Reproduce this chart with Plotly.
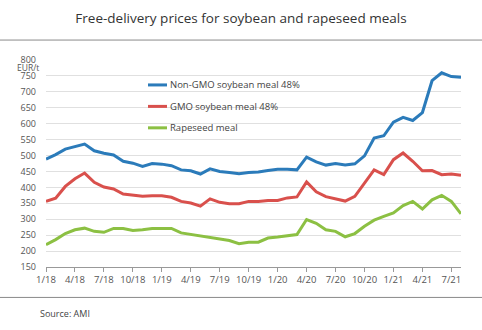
import plotly.graph_objects as go

# Monthly observations, January 2018 through August 2021
months = [f"{m}/{y}" for y in (18, 19, 20, 21) for m in range(1, 13)][:44]

non_gmo_soy = [489, 503, 520, 528, 536, 515, 507, 502, 482, 476, 466, 475,
               473, 468, 455, 452, 442, 458, 450, 447, 443, 447, 448, 453,
               457, 457, 455, 495, 480, 470, 475, 470, 474, 499, 555, 562,
               605, 620, 610, 635, 735, 760, 748, 746]
gmo_soy = [356, 366, 403, 427, 445, 416, 401, 395, 379, 376, 372, 374,
           374, 369, 356, 351, 341, 364, 353, 349, 349, 356, 356, 359,
           359, 367, 370, 417, 386, 371, 363, 357, 372, 414, 455, 440,
           487, 508, 482, 452, 453, 440, 442, 438]
rapeseed = [220, 236, 255, 267, 272, 262, 259, 271, 271, 265, 267, 271,
            271, 271, 257, 252, 247, 241, 236, 233, 223, 228, 228, 241,
            244, 249, 252, 299, 287, 267, 262, 245, 255, 278, 297, 309,
            320, 343, 356, 332, 361, 375, 356, 317]

series_names = ["Non-GMO soybean meal 48%", "GMO soybean meal 48%", "Rapeseed meal"]
series_colors = ["#2b7bba", "#d9504c", "#8cc043"]

tick_idx = list(range(0, 44, 3))
tick_text = [months[i] for i in tick_idx]

W, H = 482, 330
ML, MR, MT, MB = 46, 21, 60, 62.5
pw, ph = W - ML - MR, H - MT - MB

FONT = "Open Sans"


def px_x(xp):
    return (xp - ML) / pw


def px_y(yp):
    return 1 - (yp - MT) / ph


fig = go.Figure()
x = list(range(len(months)))
for name, vals, col in zip(series_names, [non_gmo_soy, gmo_soy, rapeseed], series_colors):
    fig.add_trace(go.Scatter(x=x, y=vals, name=name, mode="lines",
                             line=dict(color=col, width=3),
                             customdata=months, showlegend=False,
                             hovertemplate="%{customdata}: %{y} EUR/t<extra>%{fullData.name}</extra>"))

fig.update_layout(
    width=W, height=H,
    margin=dict(l=ML, r=MR, t=MT, b=MB, pad=0),
    paper_bgcolor="white", plot_bgcolor="white",
    font=dict(family=FONT, size=9, color="#444"),
    title=dict(text="Free-delivery prices for soybean and rapeseed meals",
               x=0.5, xanchor="center", y=1 - 18 / H, yanchor="middle",
               font=dict(family=FONT, size=13.5, color="#333")),
    xaxis=dict(range=[0, 43], tickmode="array", tickvals=tick_idx, ticktext=tick_text,
               showgrid=False, zeroline=False, showline=True, linecolor="#999",
               linewidth=1, ticks="outside", ticklen=4, tickcolor="#999",
               tickfont=dict(size=9.5, color="#555")),
    yaxis=dict(range=[150, 800], dtick=50, showgrid=True, gridcolor="#e0e0e0",
               gridwidth=1, zeroline=False, showline=False, ticks="",
               ticklabelstandoff=9, tickfont=dict(size=9, color="#555")),
)

# Series key drawn inside the plot area
for i, (name, col) in enumerate(zip(series_names, series_colors)):
    yp = px_y(85 + 21.5 * i)
    fig.add_shape(type="line", xref="paper", yref="paper",
                  x0=px_x(148), x1=px_x(167), y0=yp, y1=yp,
                  line=dict(color=col, width=3))
    fig.add_annotation(text=name, xref="paper", yref="paper", x=px_x(168), y=yp,
                       xanchor="left", yanchor="middle", showarrow=False,
                       font=dict(size=9.5, color="#444"))

# Unit label above the value axis
fig.add_annotation(text="EUR/t", xref="paper", yref="y", x=-5 / pw, y=776,
                   xanchor="right", yanchor="middle", showarrow=False,
                   font=dict(size=8.5, color="#555"))

# Source note
fig.add_annotation(text="Source: AMI", xref="paper", yref="paper",
                   x=px_x(38), y=px_y(314),
                   xanchor="left", yanchor="middle", showarrow=False,
                   font=dict(size=9, color="#444"))

# Rules under the title and above the source note
for ypix in (40, 298):
    fig.add_shape(type="line", xref="paper", yref="paper",
                  x0=-ML / pw, x1=1 + MR / pw, y0=px_y(ypix), y1=px_y(ypix),
                  line=dict(color="#8a8a8a", width=1))

fig.write_html("out.html")
